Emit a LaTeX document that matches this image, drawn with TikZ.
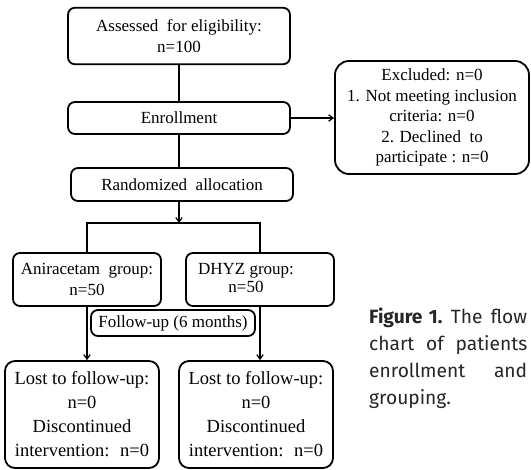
\documentclass[tikz,border=0pt]{standalone}
\usepackage{fontspec}
\setmainfont{Liberation Serif}
\newfontfamily\capfont{Fira Sans}
\usetikzlibrary{arrows.meta}
\begin{document}
\begin{tikzpicture}[x=1pt,y=-1pt]
\tikzset{
  box/.style={draw, line width=1.8pt, rounded corners=7pt, inner sep=0pt, align=center,
    font=\fontsize{17}{20.5}\selectfont},
  lostbox/.style={box, minimum width=154pt, minimum height=107pt, rounded corners=10pt,
    font=\fontsize{18.5}{24}\selectfont},
  conn/.style={line width=1.2pt},
  arr/.style={conn, -{Straight Barb[length=4.5pt,width=6.5pt]}}
}
\fill[white] (0,0) rectangle (531,470);
\useasboundingbox (0,0) rectangle (531,470);

\node[box, minimum width=222pt, minimum height=56.5pt] (assess) at (179,36) {Assessed~ for eligibility:\\n=100};
\node[box, minimum width=222pt, minimum height=32pt] (enroll) at (179,118) {Enrollment};
\node[box, minimum width=222pt, minimum height=33pt] (rand) at (182,184.5) {Randomized~ allocation};
\node[box, minimum width=194pt, minimum height=113pt, rounded corners=14pt] (excl) at (432,117.5)
  {Excluded: n=0\\1. Not meeting inclusion\\criteria: n=0\\2. Declined~ to\\participate : n=0};
\node[box, minimum width=148pt, minimum height=53pt] (anir) at (87,279.5) {Aniracetam~ group:\\n=50};
\node[box, minimum width=148pt, minimum height=53pt] (dhyz) at (260,279.5)
  {\begin{tabular}{@{}c@{}}DHYZ group:\\[-2.5pt]n=50\end{tabular}\hspace*{28pt}};
\node[box, minimum width=164pt, minimum height=26pt] (follow) at (173,323) {Follow-up (6 months)};
\node[lostbox] (lostl) at (82,414.5) {Lost to follow-up:\\n=0\\Discontinued\\intervention:~ n=0};
\node[lostbox] (lostr) at (256,414.5) {Lost to follow-up:\\n=0\\Discontinued\\intervention:~ n=0};

\coordinate (split) at (179,223);

\draw[conn] (assess) -- (enroll);
\draw[conn] (enroll.south) -- (enroll.south |- rand.north);
\draw[arr] (split |- rand.south) -- (split);
\draw[conn] (anir.north) -- (anir.north |- split) -- (dhyz.north |- split) -- (dhyz.north);
\draw[arr] (enroll.east) -- (enroll.east -| excl.west);
\draw[arr] (anir.south) -- (anir.south |- lostl.north);
\draw[arr] (dhyz.south) -- (dhyz.south |- lostr.north);

\node[anchor=north west, inner sep=0pt, text width=158pt, align=left,
  font=\capfont\fontsize{19.2}{27}\selectfont, text=black!85] (cap) at (369,308)
  {\makebox[158pt][l]{\textbf{Figure 1.}\hfill The\hfill flow}\\
   \makebox[158pt][l]{chart\hfill of\hfill patients}\\
   \makebox[158pt][l]{enrollment\hfill and}\\
   grouping.};
\end{tikzpicture}
\end{document}
